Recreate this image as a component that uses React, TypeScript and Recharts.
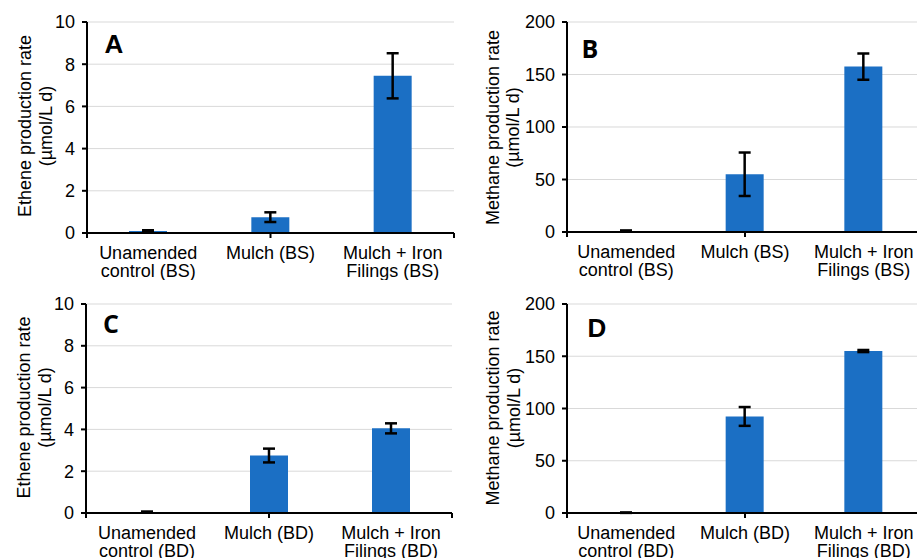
import React from "react";
import { BarChart, Bar, XAxis, YAxis, CartesianGrid, ErrorBar } from "recharts";

const FONT = '"Liberation Sans", Arial, Helvetica, sans-serif';
const BAR_COLOR = "#1b6fc4";

// ---- data ----
const categoriesBS = ["Unamended control (BS)", "Mulch (BS)", "Mulch + Iron Filings (BS)"];
const categoriesBD = ["Unamended control (BD)", "Mulch (BD)", "Mulch + Iron Filings (BD)"];
const tickLabelsBS = [["Unamended", "control (BS)"], ["Mulch (BS)"], ["Mulch + Iron", "Filings (BS)"]];
const tickLabelsBD = [["Unamended", "control (BD)"], ["Mulch (BD)"], ["Mulch + Iron", "Filings (BD)"]];

const etheneBS = [0.1, 0.75, 7.45];
const etheneBSErr = [0.03, 0.23, 1.07];
const methaneBS = [1, 55, 157.5];
const methaneBSErr = [0.5, 20.7, 12.5];
const etheneBD = [0.05, 2.75, 4.05];
const etheneBDErr = [0.02, 0.33, 0.24];
const methaneBD = [0.3, 92.4, 155];
const methaneBDErr = [0.2, 9, 1];

const etheneTicks = [0, 2, 4, 6, 8, 10];
const methaneTicks = [0, 50, 100, 150, 200];
const boundaryTicks = [0, 1, 2, 3];

const panelLetters = ["A", "B", "C", "D"];
const etheneLabel = ["Ethene production rate", "(µmol/L d)"];
const methaneLabel = ["Methane production rate", "(µmol/L d)"];

function build(cats: string[], labels: string[][], vals: number[], errs: number[]) {
  return cats.map((name, i) => ({ name, value: vals[i], err: errs[i], lines: labels[i] }));
}

const dataA = build(categoriesBS, tickLabelsBS, etheneBS, etheneBSErr);
const dataB = build(categoriesBS, tickLabelsBS, methaneBS, methaneBSErr);
const dataC = build(categoriesBD, tickLabelsBD, etheneBD, etheneBDErr);
const dataD = build(categoriesBD, tickLabelsBD, methaneBD, methaneBDErr);

const CategoryTick = (props: any) => {
  const { x, y, payload, data } = props;
  const row = data.find((d: any) => d.name === payload.value);
  const lines: string[] = row ? row.lines : [String(payload.value)];
  return (
    <g>
      {lines.map((t, i) => (
        <text key={i} x={x} y={y + 26 + i * 18} textAnchor="middle" fontSize={18} fontFamily={FONT} fill="#000">
          {t}
        </text>
      ))}
    </g>
  );
};

type PanelProps = {
  data: any[];
  domain: [number, number];
  ticks: number[];
  left: number;
  top: number;
  width: number;
  height: number;
  margin: { top: number; right: number; bottom: number; left: number };
  yAxisWidth: number;
};

const Panel = ({ data, domain, ticks, left, top, width, height, margin, yAxisWidth }: PanelProps) => (
  <div style={{ position: "absolute", left, top }}>
    <BarChart width={width} height={height} data={data} margin={margin} barSize={38}>
      <CartesianGrid vertical={false} stroke="#d9d9d9" strokeWidth={1} />
      <XAxis
        dataKey="name"
        height={0.001}
        tickSize={0}
        tickMargin={0}
        interval={0}
        axisLine={{ stroke: "#000", strokeWidth: 2 }}
        tickLine={false}
        tick={<CategoryTick data={data} />}
      />
      <XAxis
        xAxisId="bounds"
        type="number"
        domain={[0, 3]}
        ticks={boundaryTicks}
        allowDataOverflow
        height={0.001}
        interval={0}
        axisLine={false}
        tickSize={5}
        tickLine={{ stroke: "#000", strokeWidth: 2 }}
        tickFormatter={() => ""}
      />
      <YAxis
        domain={domain}
        ticks={ticks}
        interval={0}
        allowDataOverflow
        width={yAxisWidth}
        tickSize={5}
        tickMargin={7}
        axisLine={{ stroke: "#000", strokeWidth: 2 }}
        tickLine={{ stroke: "#000", strokeWidth: 2 }}
        tick={{ fontSize: 18, fill: "#000", fontFamily: FONT }}
      />
      <Bar dataKey="value" fill={BAR_COLOR} isAnimationActive={false}>
        <ErrorBar dataKey="err" width={6} strokeWidth={2.5} stroke="#000" direction="y" />
      </Bar>
    </BarChart>
  </div>
);

const YLabel = ({ x1, x2, cy, lines }: { x1: number; x2: number; cy: number; lines: string[] }) => (
  <g fontFamily={FONT} fontSize={18} fill="#000">
    <text transform={`translate(${x1},${cy}) rotate(-90)`} textAnchor="middle">{lines[0]}</text>
    <text transform={`translate(${x2},${cy}) rotate(-90)`} textAnchor="middle">{lines[1]}</text>
  </g>
);

export default function App() {
  return (
    <div
      style={{
        position: "fixed",
        left: 0,
        top: 0,
        width: 917,
        height: 558,
        overflow: "hidden",
        background: "#fff",
      }}
    >
      <Panel data={dataA} domain={[0, 10]} ticks={etheneTicks} left={0} top={0} width={460} height={280}
        margin={{ top: 22, right: 6, bottom: 47, left: 27 }} yAxisWidth={60} />
      <Panel data={dataB} domain={[0, 200]} ticks={methaneTicks} left={458} top={0} width={470} height={280}
        margin={{ top: 22, right: 5, bottom: 48, left: 49 }} yAxisWidth={60} />
      <Panel data={dataC} domain={[0, 10]} ticks={etheneTicks} left={0} top={280} width={460} height={278}
        margin={{ top: 24, right: 8, bottom: 45, left: 26 }} yAxisWidth={60} />
      <Panel data={dataD} domain={[0, 200]} ticks={methaneTicks} left={458} top={280} width={470} height={278}
        margin={{ top: 24, right: 5, bottom: 45, left: 49 }} yAxisWidth={60} />
      <svg width={917} height={558} style={{ position: "absolute", left: 0, top: 0, pointerEvents: "none" }}>
        <YLabel x1={30.5} x2={51.5} cy={126} lines={etheneLabel} />
        <YLabel x1={498.5} x2={518.5} cy={127.5} lines={methaneLabel} />
        <YLabel x1={29.5} x2={50.5} cy={407.5} lines={etheneLabel} />
        <YLabel x1={498.5} x2={519.5} cy={408} lines={methaneLabel} />
        <g fontWeight="bold" fill="#000" textAnchor="middle">
          <text x={114} y={53} fontSize={26} fontFamily={FONT}>{panelLetters[0]}</text>
          <text x={590} y={58} fontSize={25} fontFamily='"Open Sans", "Noto Sans", sans-serif'>{panelLetters[1]}</text>
          <text x={111} y={333} fontSize={25} fontFamily='"Open Sans", "Noto Sans", sans-serif'>{panelLetters[2]}</text>
          <text x={597} y={337} fontSize={26} fontFamily={FONT}>{panelLetters[3]}</text>
        </g>
      </svg>
    </div>
  );
}
